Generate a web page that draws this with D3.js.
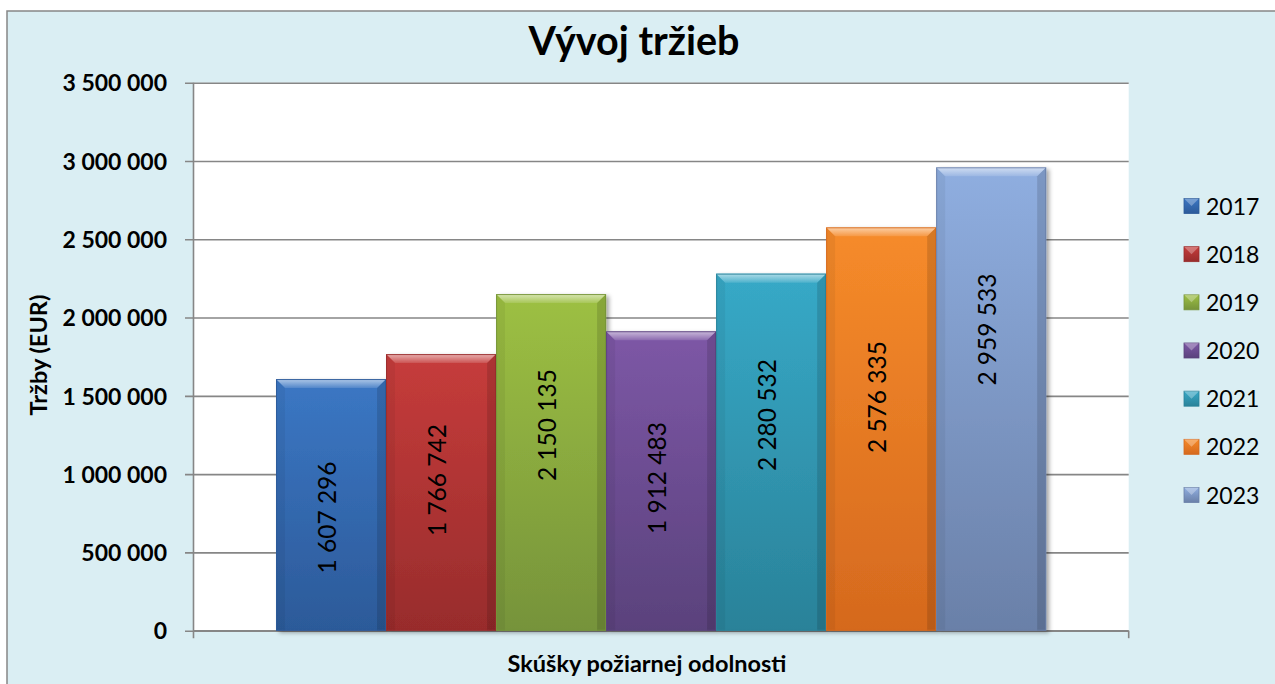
<!DOCTYPE html>
<html>
<head>
<meta charset="utf-8">
<script src="https://cdn.jsdelivr.net/npm/d3@7"></script>
<style>
  html, body { margin: 0; padding: 0; background: #ffffff; }
  svg { display: block; }
  text { font-family: Lato, "Open Sans", "DejaVu Sans", sans-serif; fill: #000; }
</style>
</head>
<body>
<svg id="chart" width="1275" height="684"></svg>
<script>
// ---------------- data ----------------
const title = "Vývoj tržieb";
const yAxisTitle = "Tržby (EUR)";
const xAxisTitle = "Skúšky požiarnej odolnosti";
const years = ["2017", "2018", "2019", "2020", "2021", "2022", "2023"];
const revenues = [1607296, 1766742, 2150135, 1912483, 2280532, 2576335, 2959533];
const labelValueAt = [723000, 962000, 1313000, 975000, 1377000, 1492000, 1923000];
const yTicks = [0, 500000, 1000000, 1500000, 2000000, 2500000, 3000000, 3500000];
const colorsTop = ["#3B77C4", "#C63C3B", "#9DC043", "#7D57A6", "#37A9C7", "#F68B2A", "#8FAEE0"];
const colorsBottom = ["#2C5A99", "#982C2C", "#76933A", "#5A427C", "#2A8299", "#D5691E", "#6A80A8"];

// ---------------- layout ----------------
const svg = d3.select("#chart");
const plot = { left: 193.5, right: 1128.7, top: 82.7, bottom: 630.7 };
const fmt = v => d3.format(",")(v).replace(/,/g, " ");

// chart background + border
svg.append("rect").attr("x", 7).attr("y", 11).attr("width", 1300).attr("height", 700)
  .attr("fill", "#DAEEF3").attr("stroke", "#878787").attr("stroke-width", 1.5);

// plot area
svg.append("rect").attr("x", plot.left).attr("y", plot.top)
  .attr("width", plot.right - plot.left).attr("height", plot.bottom - plot.top)
  .attr("fill", "#ffffff");

const y = d3.scaleLinear().domain([0, 3500000]).range([plot.bottom, plot.top]);
const catW = plot.right - plot.left;
const barW = catW / (years.length + 1.5);
const x = d3.scaleBand().domain(years)
  .range([plot.left + 0.75 * barW, plot.right - 0.75 * barW]).padding(0);

// defs
const defs = svg.append("defs");
years.forEach((yr, i) => {
  const g = defs.append("linearGradient").attr("id", "g" + i)
    .attr("x1", 0).attr("y1", 0).attr("x2", 0).attr("y2", 1);
  g.append("stop").attr("offset", "0%").attr("stop-color", colorsTop[i]);
  g.append("stop").attr("offset", "100%").attr("stop-color", colorsBottom[i]);
});
const hl = defs.append("linearGradient").attr("id", "hl")
  .attr("x1", 0).attr("y1", 0).attr("x2", 0).attr("y2", 1);
hl.append("stop").attr("offset", "0%").attr("stop-color", "#fff").attr("stop-opacity", 0.6);
hl.append("stop").attr("offset", "100%").attr("stop-color", "#fff").attr("stop-opacity", 0.12);
const sh = defs.append("filter").attr("id", "shadow")
  .attr("x", "-10%").attr("y", "-10%").attr("width", "130%").attr("height", "130%");
sh.append("feDropShadow").attr("dx", 3).attr("dy", 2).attr("stdDeviation", 2.2)
  .attr("flood-color", "#000").attr("flood-opacity", 0.35);

// y axis (ticks + labels) and gridlines
const yAxis = d3.axisLeft(y).tickValues(yTicks).tickSize(plot.right - plot.left + 8.5)
  .tickFormat(fmt).tickPadding(18);
const yg = svg.append("g").attr("transform", `translate(${plot.right},0)`).call(yAxis);
yg.select(".domain").remove();
yg.selectAll(".tick line").attr("stroke", "#868686").attr("stroke-width", 1.6);
yg.selectAll(".tick text")
  .attr("font-family", "Lato, sans-serif").attr("font-weight", "bold")
  .attr("font-size", 23).attr("fill", "#000").attr("dy", "0.36em");

// axis lines
svg.append("line").attr("x1", plot.left).attr("x2", plot.left)
  .attr("y1", plot.top).attr("y2", plot.bottom + 7.5)
  .attr("stroke", "#868686").attr("stroke-width", 1.6);
svg.append("line").attr("x1", plot.left).attr("x2", plot.right)
  .attr("y1", plot.bottom).attr("y2", plot.bottom)
  .attr("stroke", "#868686").attr("stroke-width", 1.6);
svg.append("line").attr("x1", plot.right).attr("x2", plot.right)
  .attr("y1", plot.bottom).attr("y2", plot.bottom + 7.5)
  .attr("stroke", "#868686").attr("stroke-width", 1.6);

// bars
const b = 9;
const bars = svg.append("g").attr("class", "bars");
const barSel = bars.selectAll("g.bar").data(years.map((yr, i) => ({ yr, v: revenues[i], i })))
  .join("g").attr("class", "bar");
barSel.append("rect")
  .attr("x", d => x(d.yr)).attr("y", d => y(d.v))
  .attr("width", x.bandwidth()).attr("height", d => y(0) - y(d.v))
  .attr("fill", d => `url(#g${d.i})`)
  .attr("filter", "url(#shadow)");
// side bevels
barSel.append("path").attr("d", d => {
  const x0 = x(d.yr), y0 = y(d.v), y1 = y(0);
  return `M${x0},${y0} L${x0 + b},${y0 + b} L${x0 + b},${y1} L${x0},${y1}Z`;
}).attr("fill", "#000").attr("fill-opacity", 0.05);
barSel.append("path").attr("d", d => {
  const x1 = x(d.yr) + x.bandwidth(), y0 = y(d.v), y1 = y(0);
  return `M${x1},${y0} L${x1 - b},${y0 + b} L${x1 - b},${y1} L${x1},${y1}Z`;
}).attr("fill", "#000").attr("fill-opacity", 0.13);
// top bevel
barSel.append("path").attr("d", d => {
  const x0 = x(d.yr), x1 = x0 + x.bandwidth(), y0 = y(d.v);
  return `M${x0},${y0} L${x1},${y0} L${x1 - b},${y0 + b} L${x0 + b},${y0 + b}Z`;
}).attr("fill", "url(#hl)");
// outline
barSel.append("rect")
  .attr("x", d => x(d.yr) + 0.5).attr("y", d => y(d.v) + 0.5)
  .attr("width", x.bandwidth() - 1).attr("height", d => y(0) - y(d.v) - 1)
  .attr("fill", "none").attr("stroke", d => colorsBottom[d.i])
  .attr("stroke-opacity", 0.9).attr("stroke-width", 1);

// value labels
barSel.append("text")
  .attr("transform", d => `translate(${x(d.yr) + x.bandwidth() / 2 + 5},${y(labelValueAt[d.i])}) rotate(-90)`)
  .attr("text-anchor", "middle")
  .attr("font-size", 24.5)
  .text(d => fmt(d.v));

// title
svg.append("text").attr("x", 634).attr("y", 55).attr("text-anchor", "middle")
  .attr("font-weight", "bold").attr("font-size", 39.5).text(title);

// axis titles
svg.append("text").attr("transform", "translate(47,355) rotate(-90)")
  .attr("text-anchor", "middle").attr("font-weight", "bold").attr("font-size", 23.5)
  .text(yAxisTitle);
svg.append("text").attr("x", 647).attr("y", 672).attr("text-anchor", "middle")
  .attr("font-weight", "bold").attr("font-size", 23.5).text(xAxisTitle);

// legend
const leg = svg.append("g").attr("class", "legend");
const legY = d3.scalePoint().domain(years).range([206, 495]);
const li = leg.selectAll("g").data(years).join("g")
  .attr("transform", d => `translate(1184,${legY(d)})`);
li.append("rect").attr("x", 0).attr("y", -7.5).attr("width", 15).attr("height", 15)
  .attr("fill", (d, i) => `url(#g${i})`).attr("stroke", (d, i) => colorsBottom[i]).attr("stroke-width", 0.8);
li.append("path").attr("d", "M0,-7.5 L15,-7.5 L7.5,0Z").attr("fill", "#fff").attr("fill-opacity", 0.3);
li.append("text").attr("x", 22).attr("y", 8.5).attr("font-size", 23).text(d => d);
</script>
</body>
</html>
